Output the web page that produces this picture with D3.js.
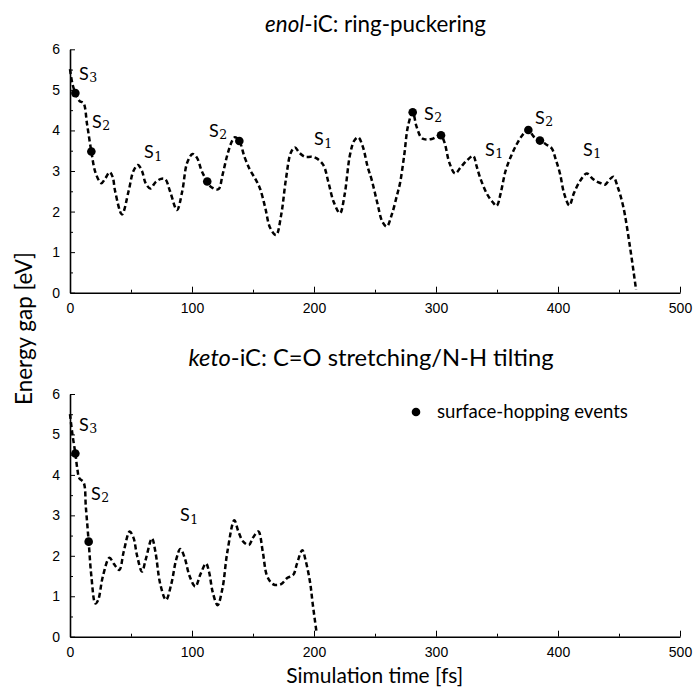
<!DOCTYPE html>
<html><head><meta charset="utf-8">
<script src="https://cdn.jsdelivr.net/npm/d3@7"></script>
<style>body{margin:0;background:#fff}</style>
</head><body><svg id="c" width="698" height="687"></svg>
<script>
// ---- data ----
const xMajor = [0,100,200,300,400,500];
const xMinor = [50,150,250,350,450];
const yMajor = [0,1,2,3,4,5,6];
const yMinor = [0.5,1.5,2.5,3.5,4.5,5.5];

const enolT = [0,2,4.4,8,11,14,17.5,21,25.7,29,32.5,35,37,42.6,48,52,55.7,59,62,65.8,70,74,78,82,87.7,92,96,100.5,104,108,112.5,116,121.6,125,129,133,135.2,138.8,143,147.5,152,155.7,160,164,168.9,173,177,181,184.4,188,192.6,198,202.2,207.6,212,216,221.3,225,229.5,233,236.3,240,244,247.3,252,256,259.6,264,268,270.5,274,277,280.9,284,288,291,296.5,301,304.1,307,311,315.6,320,325,330.6,333,336,341.5,346,349.7,353,357,362,366,370,375.7,380,385.2,390,394.8,398,401.6,405,409.3,413,418,423.5,428,431.7,435,438.5,442,445.3,449,453.5,459,464];
const enolE = [5.51,5.15,4.92,4.72,4.68,4.15,3.48,2.95,2.70,2.82,2.97,2.85,2.5,1.93,2.5,3.0,3.15,3.0,2.7,2.57,2.72,2.80,2.80,2.5,2.04,2.5,3.2,3.42,3.33,3.0,2.74,2.6,2.55,2.9,3.4,3.75,3.83,3.74,3.35,3.03,2.80,2.57,2.1,1.6,1.42,1.9,2.8,3.45,3.58,3.45,3.35,3.35,3.31,3.15,2.7,2.25,1.96,2.4,3.40,3.75,3.83,3.6,3.1,2.78,2.2,1.75,1.63,1.95,2.4,2.70,3.4,4.1,4.45,4.1,3.82,3.78,3.79,3.85,3.88,3.7,3.2,2.94,3.08,3.25,3.37,3.15,2.85,2.45,2.25,2.14,2.45,3.0,3.40,3.65,3.85,4.01,3.85,3.75,3.66,3.56,3.3,2.94,2.45,2.15,2.45,2.75,2.94,2.82,2.74,2.7,2.66,2.78,2.86,2.6,2.12,1.13,0.07];
const enolHopT = [4.4,17.5,112.5,138.8,280.9,304.1,375.7,385.2];
const enolHopE = [4.92,3.48,2.74,3.74,4.45,3.88,4.01,3.75];
const enolLabSub = ["3","2","1","2","1","2","1","2","1"];
const enolLabT = [7.4,18,60.7,114,200,290.2,340.2,381.1,420.5];
const enolLabE = [5.25,4.06,3.32,3.84,3.64,4.26,3.37,4.16,3.37];

const ketoT = [0,2,4.4,6,7.6,11.2,13,15.3,17.5,20.8,23,27,32.3,36,40.4,44,48.9,52,55,59,62,67.2,70,74,78.7,83,87,90.4,94,98,102.7,107,111.5,114,117,121,125,129,134.7,138,142,146.7,150,154.4,158,161.2,165,168,173,178,183,186,190.4,193,196.7,199,202.2];
const ketoE = [5.50,5.0,4.53,4.15,3.92,3.81,3.2,2.35,1.5,0.82,0.9,1.5,1.95,1.8,1.65,2.1,2.60,2.45,2.0,1.61,1.9,2.43,2.1,1.3,0.91,1.3,1.9,2.17,1.95,1.5,1.24,1.55,1.81,1.6,1.1,0.78,1.2,2.1,2.88,2.6,2.35,2.27,2.45,2.60,2.1,1.53,1.33,1.28,1.30,1.45,1.53,1.8,2.14,1.9,1.36,0.8,0.08];
const ketoHopT = [4.4,15.3];
const ketoHopE = [4.53,2.35];
const ketoLabSub = ["3","2","1"];
const ketoLabT = [7.4,17.2,90.2];
const ketoLabE = [5.09,3.38,2.86];

const svg = d3.select("#c");
const SANS = "Lato, 'DejaVu Sans', sans-serif";
const TICKF = "'Liberation Sans', Arial, sans-serif";
const x = d3.scaleLinear([0,500],[70,680]);

function fit(sel, w){
  const l = sel.node().getComputedTextLength();
  const fs = parseFloat(sel.attr("font-size"));
  sel.attr("font-size", fs*w/l);
}

function panel(y, T, E, hT, hE, lS, lT, lE){
  const y0 = y(0);
  // x axis
  const gx = svg.append("g").attr("transform",`translate(0,${y0})`)
    .call(d3.axisBottom(x).tickValues(xMajor).tickFormat(d3.format("d")).tickSize(-6).tickSizeOuter(0).tickPadding(10.6));
  gx.select(".domain").attr("stroke-width",1.6);
  gx.selectAll("text").attr("font-family",TICKF).attr("font-size",14).attr("fill","#000");
  gx.selectAll(".tick line").attr("stroke-width",1);
  svg.append("g").attr("transform",`translate(0,${y0})`)
    .call(d3.axisBottom(x).tickValues(xMinor).tickSize(-3).tickFormat(""))
    .call(g=>g.select(".domain").remove());
  // y axis
  const gy = svg.append("g").attr("transform",`translate(${x(0)},0)`)
    .call(d3.axisLeft(y).tickValues(yMajor).tickFormat(d3.format("d")).tickSize(-5).tickSizeOuter(0).tickPadding(10));
  gy.select(".domain").attr("stroke-width",1.6);
  gy.selectAll("text").attr("font-family",TICKF).attr("font-size",14).attr("fill","#000");
  gy.selectAll(".tick line").attr("stroke-width",1);
  svg.append("g").attr("transform",`translate(${x(0)},0)`)
    .call(d3.axisLeft(y).tickValues(yMinor).tickSize(-3).tickFormat(""))
    .call(g=>g.select(".domain").remove());
  // curve
  const pts = T.map((t,i)=>[t,E[i]]);
  svg.append("path").datum(pts)
    .attr("d", d3.line().x(d=>x(d[0])).y(d=>y(d[1])).curve(d3.curveCatmullRom.alpha(0.5)))
    .attr("fill","none").attr("stroke","#000").attr("stroke-width",2.5)
    .attr("stroke-dasharray","5,3");
  // hop dots
  svg.append("g").selectAll("circle").data(hT).join("circle")
    .attr("cx",d=>x(d)).attr("cy",(d,i)=>y(hE[i])).attr("r",4.3).attr("fill","#000");
  // state labels
  lS.forEach((s,i)=>{
    const t = svg.append("text").attr("x",x(lT[i])).attr("y",y(lE[i]))
      .attr("font-family",SANS).attr("font-size",18).attr("fill","#000");
    t.append("tspan").text("S");
    t.append("tspan").attr("font-family","'DejaVu Serif','Liberation Serif',serif")
      .attr("font-size",12.5).attr("dx",0.5).attr("dy",2.5).text(s);
  });
}

const yTop = d3.scaleLinear([0,6],[292.7,49.3]);
const yBot = d3.scaleLinear([0,6],[636.7,394]);
panel(yTop, enolT, enolE, enolHopT, enolHopE, enolLabSub, enolLabT, enolLabE);
panel(yBot, ketoT, ketoE, ketoHopT, ketoHopE, ketoLabSub, ketoLabT, ketoLabE);

// titles
const t1 = svg.append("text").attr("x",375.5).attr("y",31.7).attr("text-anchor","middle")
  .attr("font-family",SANS).attr("font-size",18);
t1.append("tspan").attr("font-style","italic").text("enol");
t1.append("tspan").text("-iC: ring-puckering");
fit(t1,221);
const t2 = svg.append("text").attr("x",371).attr("y",366).attr("text-anchor","middle")
  .attr("font-family",SANS).attr("font-size",18);
t2.append("tspan").attr("font-style","italic").text("keto");
t2.append("tspan").text("-iC: C=O stretching/N-H tilting");
fit(t2,365);

// axis labels
const yl = svg.append("text").attr("transform","translate(31.5,328.5) rotate(-90)")
  .attr("text-anchor","middle").attr("font-family",SANS).attr("font-size",18).text("Energy gap [eV]");
fit(yl,153);
const xl = svg.append("text").attr("x",374.7).attr("y",682.7).attr("text-anchor","middle")
  .attr("font-family",SANS).attr("font-size",18).text("Simulation time [fs]");
fit(xl,177);

// legend
svg.append("circle").attr("cx",416).attr("cy",412).attr("r",4.3).attr("fill","#000");
const lg = svg.append("text").attr("x",437).attr("y",417.5)
  .attr("font-family",SANS).attr("font-size",16).text("surface-hopping events");
fit(lg,191);
</script></body></html>
